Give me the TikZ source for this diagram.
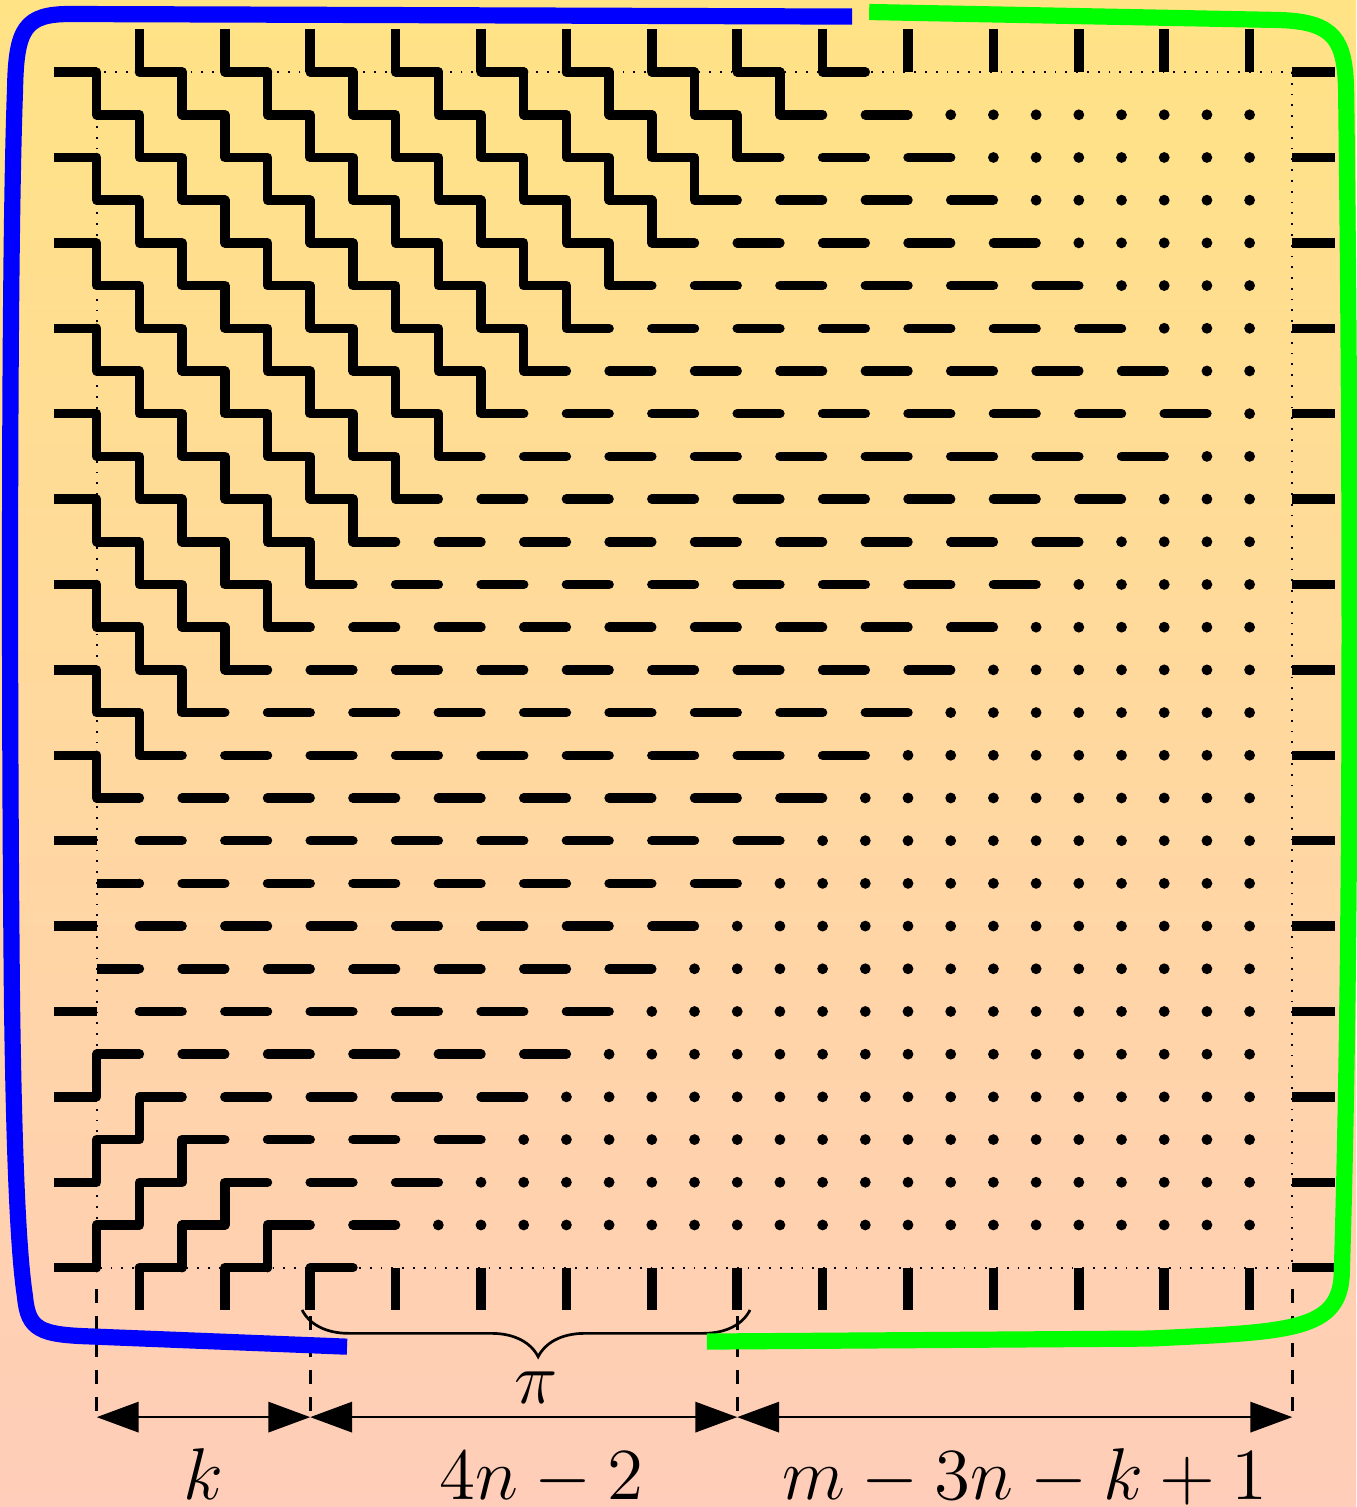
\RequirePackage{fix-cm}
\documentclass[tikz,border=0pt]{standalone}
\usepackage{tikz}
\usetikzlibrary{arrows.meta,decorations.pathreplacing}
\definecolor{Sand}{HTML}{FFE385}
\definecolor{Peach}{HTML}{FFCDB9}
\tikzset{
  stair/.style={line width=2.1pt,line cap=round,line join=round},
  edge/.style={line width=2.1pt},
  frame/.style={dotted},
  guide/.style={dashed,semithick},
  dim/.style={{Triangle[length=9.3pt,width=6.7pt]}-{Triangle[length=9.3pt,width=6.7pt]},semithick},
  rim/.style={line width=3.6pt,line join=round},
  lab/.style={font=\fontsize{16.3}{20}\selectfont,anchor=base,inner sep=0pt}
}
\begin{document}
\begin{tikzpicture}[x=9.49pt,y=9.49pt]
  % background
  \fill[top color=Sand,bottom color=Peach] (-1.265,1.688) rectangle (30.492,-33.605);
  \useasboundingbox (-1.265,1.688) rectangle (30.492,-33.605);
  % frame of the region
  \draw[frame] (1,0) rectangle (29,-28);
  % guides down to the scale
  \foreach \x [count=\c] in {1,6,16,29}{
    \coordinate (up\c) at (\x,-28.5);
    \coordinate (lo\c) at (\x,-31.5);
  }
  \foreach \c in {1,...,4} \draw[guide] (up\c) -- (lo\c);
  % pieces on the border
  \foreach \row in {0,2,...,28}
    \draw[edge] (0,-\row) -- (1,-\row) (29,-\row) -- (30,-\row);
  \foreach \col in {2,4,...,28}
    \draw[edge] (\col,1) -- (\col,0) (\col,-28) -- (\col,-29);
  % staircases from the left side, going down
  \foreach \p in {0,...,8}{
    \pgfmathtruncatemacro\len{9-\p}
    \draw[stair] (1,-2*\p) \foreach \s in {1,...,\len}{ -- ++(0,-1) -- ++(1,0) };
  }
  % staircases from the top ticks
  \foreach \p in {1,...,9}{
    \pgfmathtruncatemacro\len{9-\p}
    \draw[stair] (2*\p,0) -- ++(1,0);
    \ifnum\len>0
      \draw[stair] (2*\p+1,0) \foreach \s in {1,...,\len}{ -- ++(0,-1) -- ++(1,0) };
    \fi
  }
  % staircases at the bottom, going up
  \foreach \lft/\len in {24/1,26/2,28/3}
    \draw[stair] (1,-\lft) \foreach \s in {1,...,\len}{ -- ++(0,1) -- ++(1,0) };
  \foreach \col/\len in {2/2,4/1,6/0}{
    \draw[stair] (\col,-28) -- ++(1,0);
    \ifnum\len>0
      \draw[stair] (\col+1,-28) \foreach \s in {1,...,\len}{ -- ++(0,1) -- ++(1,0) };
    \fi
  }
  % dashes and dots of the rows
  \foreach \row in {1,...,27}{
    \pgfmathtruncatemacro\first{abs(20-\row)}
    \pgfmathtruncatemacro\dotstart{min(20+\row,36-\row)}
    \ifnum\first=1
      \draw[edge] (1,-\row) -- (2,-\row);
      \fill (2,-\row) circle[radius=1.05pt];
    \fi
    \ifnum\first<2 \pgfmathtruncatemacro\first{\first+2}\fi
    \pgfmathtruncatemacro\cnt{(\dotstart-2-\first)/2}
    \foreach \q in {0,...,\cnt}
      \draw[stair] (\first+2*\q,-\row) -- ++(1,0);
    \foreach \col in {\dotstart,...,28}
      \fill (\col,-\row) circle[radius=1.2pt];
  }
  % brace under the middle block
  \coordinate (br1) at (5.81,-28.99);
  \coordinate (br2) at (16.30,-28.99);
  \draw[semithick,decorate,decoration={brace,mirror,amplitude=10.4pt,aspect=0.527}] (br1) -- (br2);
  \node[lab] (pilab) at (11.29,-31.17) {$\pi$};
  % scale
  \draw[dim] (lo1) -- (lo2);
  \draw[dim] (lo2) -- (lo3);
  \draw[dim] (lo3) -- (lo4);
  \node[lab] (klab) at (3.5,-33.42) {$k$};
  \node[lab] (lenlab) at (11.42,-33.42) {$4n-2$};
  \node[lab] (restlab) at (22.74,-33.42) {$m-3n-k+1$};
  % the two coloured rims
  \draw[rim,blue] (18.69,1.30) -- (0.375,1.36)
    .. controls (-0.679,1.36) and (-0.890,1.032) .. (-0.913,-0.422)
    .. controls (-1.054,-4.174) and (-1.054,-14.72) .. (-0.984,-21.76)
    .. controls (-0.937,-25.28) and (-0.843,-27.62) .. (-0.679,-28.68)
    .. controls (-0.609,-29.45) and (-0.328,-29.57) .. (0.843,-29.61)
    -- (6.862,-29.85);
  \draw[rim,green] (19.09,1.407) -- (28.71,1.219)
    .. controls (30.00,1.172) and (30.23,0.750) .. (30.26,-0.422)
    .. controls (30.35,-7.69) and (30.42,-19.41) .. (30.16,-28.09)
    .. controls (30.14,-29.50) and (28.95,-29.50) .. (25.67,-29.66)
    -- (15.29,-29.73);
\end{tikzpicture}
\end{document}
